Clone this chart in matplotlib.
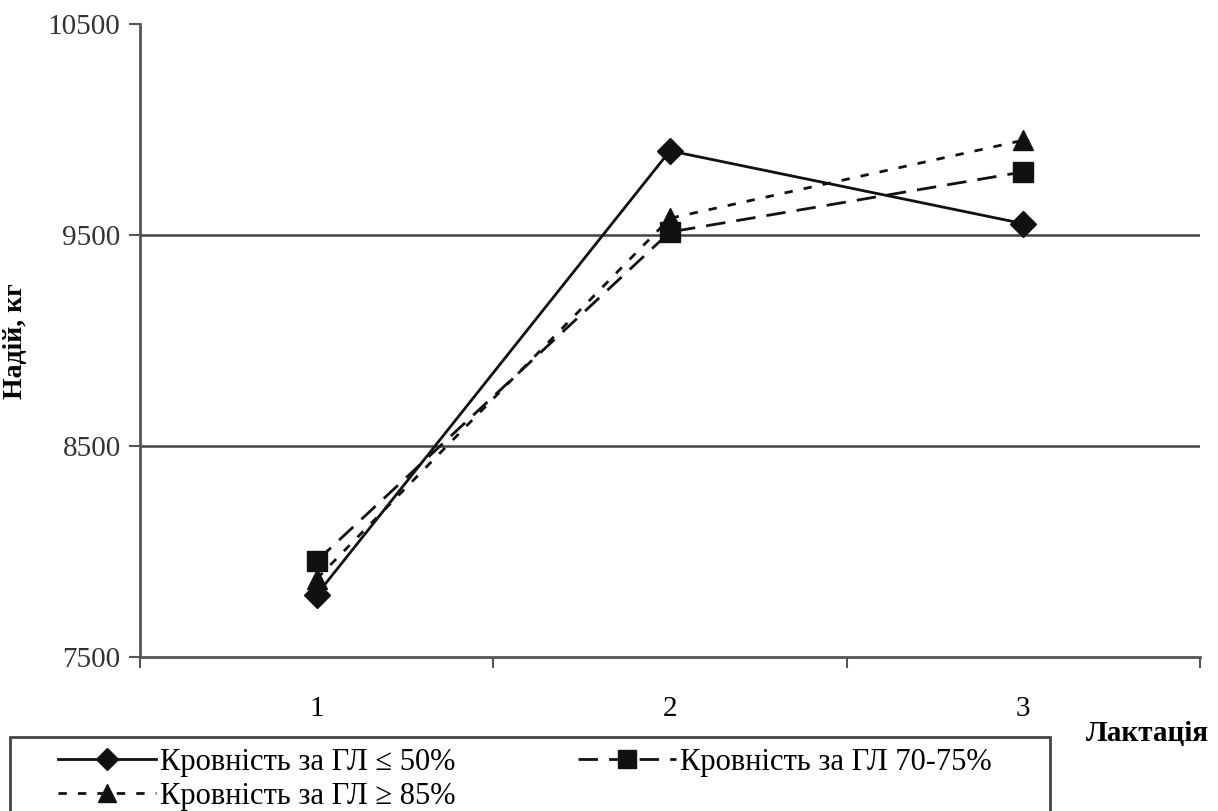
import matplotlib.pyplot as plt
from matplotlib.patches import Rectangle

plt.rcParams['font.family'] = ['Liberation Serif', 'DejaVu Serif']

lactations = [1, 2, 3]
lactation_labels = ['1', '2', '3']
yield_le50 = [7795, 9900, 9555]
yield_70_75 = [7955, 9515, 9800]
yield_ge85 = [7870, 9580, 9950]

series_labels = ['Кровність за ГЛ ≤ 50%', 'Кровність за ГЛ 70-75%', 'Кровність за ГЛ ≥ 85%']
y_ticks = [7500, 8500, 9500, 10500]

fig = plt.figure(figsize=(12.18, 8.11), dpi=100)
ax = fig.add_axes([0.115, 0.190, 0.870, 0.780])

axis_col = '#555555'
for yv in y_ticks[1:-1]:
    ax.axhline(yv, color='#444444', lw=1.8, zorder=1)

l1, = ax.plot(lactations, yield_le50, color='#111111', lw=2.0, marker='D',
              ms=13, label=series_labels[0], zorder=4)
l2, = ax.plot(lactations, yield_70_75, color='#111111', lw=2.0, marker='s',
              ms=15, dashes=(7, 4), label=series_labels[1], zorder=3)
l3, = ax.plot(lactations, yield_ge85, color='#111111', lw=2.0, marker='^',
              ms=15, dashes=(3, 4), label=series_labels[2], zorder=3)

ax.set_xlim(0.5, 3.5)
ax.set_ylim(7500, 10500)
ax.set_yticks(y_ticks)
ax.set_yticklabels([str(v) for v in y_ticks])
ax.set_xticks(lactations)
ax.set_xticklabels(lactation_labels)
ax.set_xticks([0.5, 1.5, 2.5, 3.5], minor=True)
ax.tick_params(axis='x', which='major', length=0, pad=28, labelsize=21)
ax.tick_params(axis='x', which='minor', length=8, width=1.5, color=axis_col, direction='out')
ax.tick_params(axis='y', length=8, width=1.5, color=axis_col, labelsize=21,
               labelcolor='#333333', pad=6)

for side in ['top', 'right']:
    ax.spines[side].set_visible(False)
for side in ['left', 'bottom']:
    ax.spines[side].set_color(axis_col)
    ax.spines[side].set_linewidth(2.0)

ax.set_ylabel('Надій, кг', fontsize=20, fontweight='bold', labelpad=14)
fig.text(0.942, 1 - 733 / 811, 'Лактація', fontsize=21, fontweight='bold',
         ha='center', va='center')

# legend box runs off the bottom edge of the figure
fig.add_artist(Rectangle((10 / 1218, -0.05), 1040 / 1218, 0.05 + 74 / 811,
                         transform=fig.transFigure, fill=False,
                         edgecolor='#444444', lw=2.0))

leg = fig.legend([l1, l3, l2], [series_labels[0], series_labels[2], series_labels[1]],
                 ncol=2, loc='upper left', bbox_to_anchor=(58 / 1218, 1 - 748 / 811),
                 frameon=False, fontsize=22, handlelength=3.2, handletextpad=0.15,
                 borderaxespad=0, labelspacing=0.15, borderpad=0, columnspacing=4.0,
                 markerscale=0.85)

fig.savefig('out.png', dpi=100)
